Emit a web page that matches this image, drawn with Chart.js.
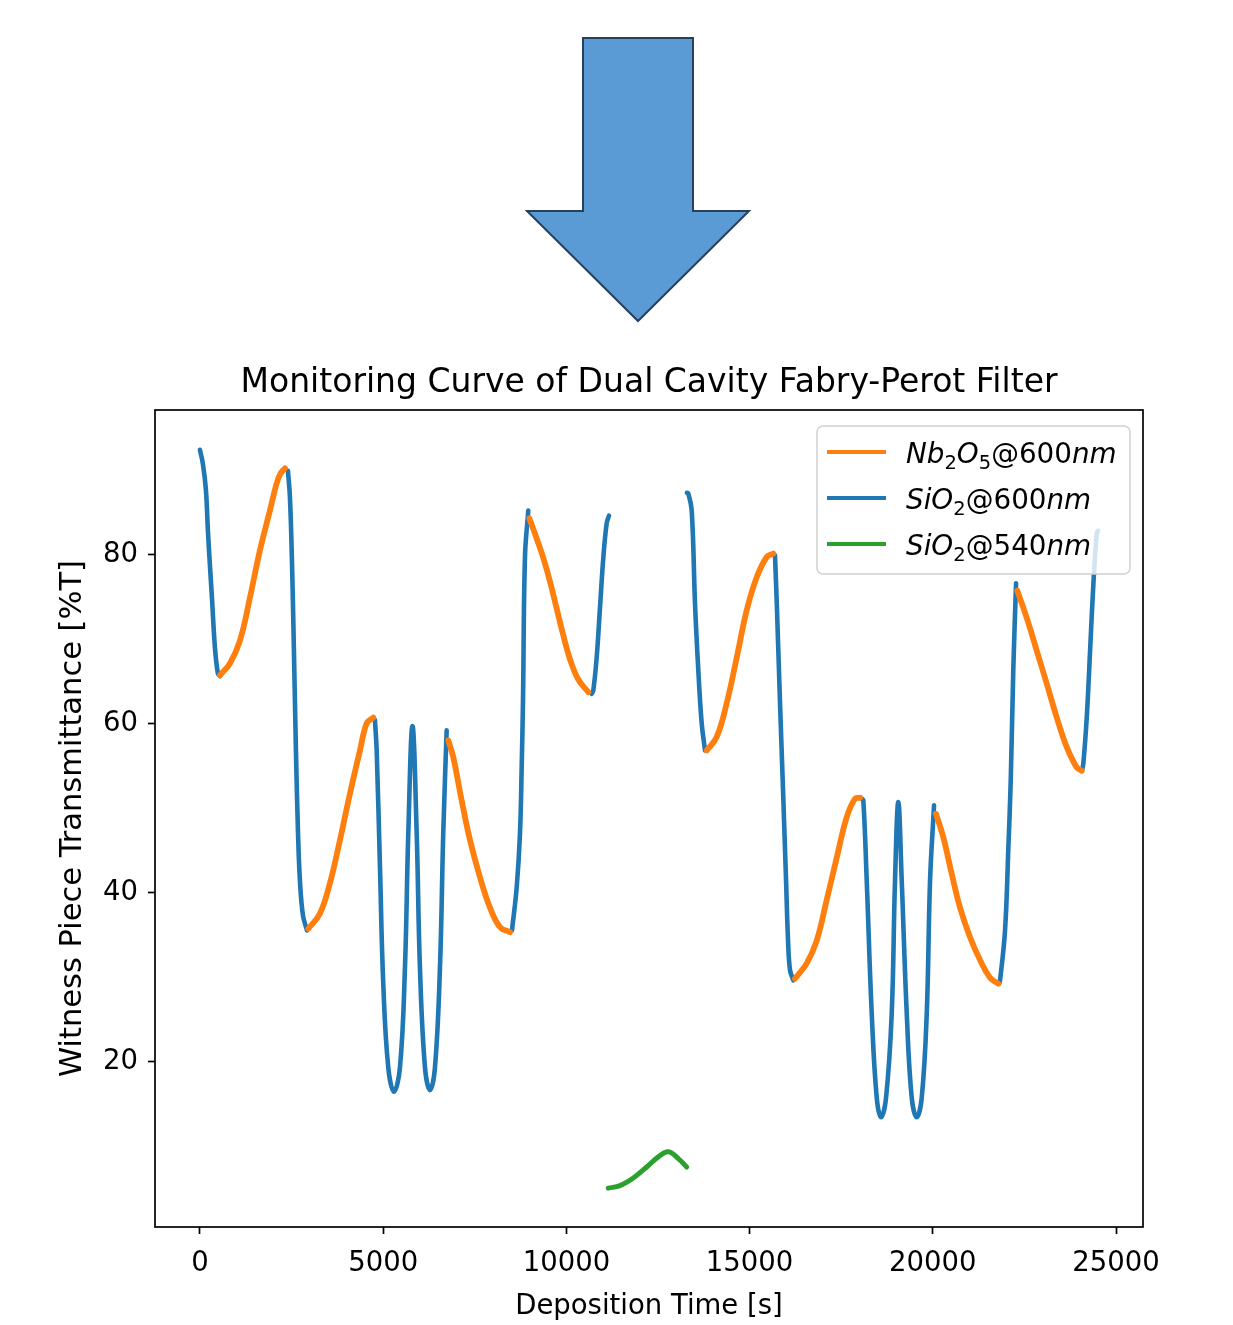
<!DOCTYPE html>
<html>
<head>
<meta charset="utf-8">
<script src="https://cdn.jsdelivr.net/npm/chart.js@4.4.0/dist/chart.umd.min.js"></script>
<style>
html,body{margin:0;padding:0;background:#fff;}
#wrap{position:relative;width:1233px;height:1325px;overflow:hidden;}
#c{position:absolute;left:0;top:0;}
#arrow{position:absolute;left:0;top:0;}
</style>
</head>
<body>
<div id="wrap">
<canvas id="c" width="1233" height="1325"></canvas>
<svg id="arrow" width="1233" height="340" viewBox="0 0 1233 340">
  <polygon points="583,38 693,38 693,211 749,211 638,321 527,211 583,211" fill="#5B9BD5" stroke="#27405E" stroke-width="2" stroke-linejoin="miter"/>
</svg>
</div>
<script>
// ---------------- data (null = break between deposition layers) ----------------
const chartTitle = 'Monitoring Curve of Dual Cavity Fabry-Perot Filter';
const xTitle = 'Deposition Time [s]';
const yTitle = 'Witness Piece Transmittance [%T]';
const xTicks = [0, 5000, 10000, 15000, 20000, 25000];
const yTicks = [20, 40, 60, 80];

// Nb2O5 @ 600 nm (orange)
const nbTime = [
  546, 819, 1092, 1365, 1638, 1910, 2093, 2200, 2320, null,
  2956, 3275, 3548, 3821, 4094, 4367, 4550, 4730, null,
  6777, 6914, 7142, 7369, 7642, 7915, 8188, 8461, null,
  8988, 9189, 9370, 9552, 9735, 9917, 10098, 10325, 10598, null,
  13829, 14102, 14375, 14648, 14921, 15194, 15467, 15647, null,
  16239, 16558, 16831, 17104, 17377, 17650, 17877, 18013, null,
  20087, 20287, 20516, 20742, 21015, 21288, 21561, 21788, null,
  22306, 22563, 22836, 23109, 23382, 23654, 23927, 24063
];
const nbValue = [
  65.7, 67.1, 69.8, 74.9, 80.5, 85.2, 88.4, 89.6, 90.2, null,
  35.7, 37.5, 41.1, 46.2, 51.7, 56.8, 60.0, 60.7, null,
  58.0, 56.0, 50.9, 46.2, 41.8, 38.2, 35.9, 35.3, null,
  84.3, 81.9, 79.6, 76.8, 73.6, 70.4, 67.6, 65.2, 63.7, null,
  56.8, 58.4, 62.4, 67.8, 73.4, 77.3, 79.7, 80.1, null,
  29.8, 31.6, 34.3, 39.1, 44.1, 48.9, 51.1, 51.2, null,
  49.3, 46.5, 42.2, 38.2, 34.7, 32.0, 29.9, 29.2, null,
  75.7, 72.5, 68.6, 64.7, 60.7, 57.2, 54.8, 54.4
];

// SiO2 @ 600 nm (blue)
const siTime = [
  0, 82, 164, 218, 273, 328, 409, 491, 546, null,
  2402, 2456, 2511, 2565, 2620, 2675, 2729, 2811, 2921, null,
  4776, 4823, 4913, 5003, 5139, 5295, 5459, 5595, 5686, 5800, 5915, 6004, 6141, 6278, 6414, 6550, 6640, 6733, null,
  8515, 8644, 8734, 8780, 8816, 8870, 8960, null,
  10690, 10734, 10826, 10917, 11008, 11100, 11163, null,
  13290, 13327, 13420, 13510, 13600, 13693, 13783, null,
  15693, 15748, 15830, 15912, 15994, 16048, 16103, 16193, null,
  18060, 18103, 18196, 18332, 18469, 18586, 18723, 18878, 18968, 19058, 19151, 19288, 19424, 19561, 19697, 19834, 19924, 20033, null,
  21806, 21834, 21970, 22061, 22126, 22197, 22271, null,
  24080, 24108, 24200, 24291, 24382, 24473, 24509
];
const siValue = [
  92.4, 90.7, 87.6, 82.8, 78.7, 74.9, 69.0, 65.9, 65.6, null,
  89.9, 86.8, 79.3, 68.6, 56.8, 47.3, 41.4, 37.3, 35.5, null,
  60.4, 56.8, 43.0, 29.2, 19.3, 16.4, 19.3, 31.1, 47.0, 59.7, 47.0, 31.1, 19.3, 16.6, 19.3, 31.1, 47.0, 59.2, null,
  35.5, 40.6, 47.0, 54.8, 62.7, 79.7, 85.2, null,
  63.5, 63.9, 67.8, 73.7, 79.6, 83.7, 84.6, null,
  87.3, 87.2, 85.2, 74.2, 66.3, 60.0, 56.8, null,
  79.9, 73.4, 62.4, 52.1, 41.5, 34.4, 30.8, 29.6, null,
  51.1, 50.9, 41.4, 25.7, 15.7, 13.4, 15.7, 25.7, 41.4, 50.7, 41.4, 25.7, 15.7, 13.4, 15.7, 25.7, 41.4, 50.3, null,
  29.2, 29.6, 35.5, 45.3, 53.3, 66.6, 76.6, null,
  54.6, 55.3, 60.7, 68.6, 76.6, 82.5, 82.8
];

// SiO2 @ 540 nm (green)
const si540Time = [11144, 11463, 11826, 12192, 12508, 12781, 13054, 13283];
const si540Value = [5.0, 5.3, 6.2, 7.5, 8.7, 9.3, 8.5, 7.5];

// ---------------- build chart ----------------
function toPoints(ts, vs) {
  const out = [];
  let lastX = 0;
  for (let i = 0; i < ts.length; i++) {
    if (ts[i] === null) { out.push({x: lastX, y: null}); continue; }
    lastX = ts[i];
    out.push({x: ts[i], y: vs[i]});
  }
  return out;
}

const FONT = "'DejaVu Sans', sans-serif";
const colors = {nb: '#ff7f0e', si: '#1f77b4', g: '#2ca02c'};

const legendItems = [
  {color: colors.nb, runs: [['N','i'],['b','i'],['2','s'],['O','i'],['5','s'],['@600','r'],['nm','i']]},
  {color: colors.si, runs: [['S','i'],['i','i'],['O','i'],['2','s'],['@600','r'],['nm','i']]},
  {color: colors.g,  runs: [['S','i'],['i','i'],['O','i'],['2','s'],['@540','r'],['nm','i']]}
];

const titlePlugin = {
  id: 'mplTitle',
  afterDraw(chart) {
    const {ctx, chartArea: a} = chart;
    ctx.save();
    ctx.font = `33px ${FONT}`;
    ctx.fillStyle = '#000';
    ctx.textAlign = 'center';
    ctx.textBaseline = 'alphabetic';
    ctx.fillText(chartTitle, (a.left + a.right) / 2, a.top - 18);
    ctx.restore();
  }
};

const framePlugin = {
  id: 'frame',
  afterDatasetsDraw(chart) {
    const {ctx, chartArea: a} = chart;
    ctx.save();
    ctx.strokeStyle = '#000';
    ctx.lineWidth = 1.7;
    ctx.strokeRect(a.left, a.top, a.right - a.left, a.bottom - a.top);
    ctx.restore();
  }
};

const legendPlugin = {
  id: 'mplLegend',
  afterDraw(chart) {
    const {ctx, chartArea: a} = chart;
    const bw = 313, bh = 148;
    const bx = a.right - 13 - bw, by = a.top + 16;
    ctx.save();
    ctx.beginPath();
    ctx.roundRect(bx, by, bw, bh, 6);
    ctx.fillStyle = 'rgba(255,255,255,0.8)';
    ctx.fill();
    ctx.strokeStyle = '#d0d0d0';
    ctx.lineWidth = 1.5;
    ctx.stroke();
    const fs = 27.8;
    legendItems.forEach((it, k) => {
      const ly = by + 26 + k * 46;
      ctx.beginPath();
      ctx.moveTo(bx + 10, ly);
      ctx.lineTo(bx + 69, ly);
      ctx.strokeStyle = it.color;
      ctx.lineWidth = 4;
      ctx.lineCap = 'butt';
      ctx.stroke();
      let x = bx + 89;
      const base = ly + 11;
      ctx.fillStyle = '#000';
      ctx.textBaseline = 'alphabetic';
      ctx.textAlign = 'left';
      it.runs.forEach(([t, st]) => {
        if (st === 's') {
          ctx.font = `${(fs*0.7).toFixed(1)}px ${FONT}`;
          ctx.fillText(t, x, base + 6);
        } else if (st === 'i') {
          ctx.font = `italic ${fs}px ${FONT}`;
          ctx.fillText(t, x, base);
        } else {
          ctx.font = `${fs}px ${FONT}`;
          ctx.fillText(t, x, base);
        }
        x += ctx.measureText(t).width;
      });
    });
    ctx.restore();
  }
};

const tickFont = {family: FONT, size: 27.5};

new Chart(document.getElementById('c'), {
  type: 'line',
  data: {
    datasets: [
      {label: 'Nb2O5@600nm', data: toPoints(nbTime, nbValue), borderColor: colors.nb, borderWidth: 5.8},
      {label: 'SiO2@600nm', data: toPoints(siTime, siValue), borderColor: colors.si, borderWidth: 4.6},
      {label: 'SiO2@540nm', data: toPoints(si540Time, si540Value), borderColor: colors.g, borderWidth: 5}
    ].map(d => Object.assign(d, {
      pointRadius: 0, pointHoverRadius: 0, fill: false, spanGaps: false,
      tension: 0.4, borderCapStyle: 'round', borderJoinStyle: 'round'
    }))
  },
  options: {
    responsive: false,
    animation: false,
    devicePixelRatio: 1,
    events: [],
    layout: {padding: {left: 0, right: 90, top: 410, bottom: 0}},
    plugins: {
      legend: {display: false},
      tooltip: {enabled: false},
      title: {display: false}
    },
    scales: {
      x: {
        type: 'linear', min: -1226, max: 25735,
        afterBuildTicks: s => { s.ticks = xTicks.map(v => ({value: v})); },
        afterFit: s => { s.height = 98; },
        ticks: {color: '#000', font: tickFont, padding: 13, autoSkip: false, maxRotation: 0, callback: v => String(v)},
        grid: {drawOnChartArea: false, drawTicks: true, tickLength: 7, tickWidth: 1.7, tickColor: '#000'},
        border: {display: false},
        title: {display: true, text: xTitle, color: '#000', font: {family: FONT, size: 27.5, lineHeight: 1.2}, padding: {top: 0, bottom: 2}}
      },
      y: {
        type: 'linear', min: 0.4, max: 97.1,
        afterBuildTicks: s => { s.ticks = yTicks.map(v => ({value: v})); },
        afterFit: s => { s.width = 155; },
        ticks: {color: '#000', font: tickFont, padding: 10, autoSkip: false, callback: v => String(v)},
        grid: {drawOnChartArea: false, drawTicks: true, tickLength: 7, tickWidth: 1.7, tickColor: '#000'},
        border: {display: false},
        title: {display: true, text: yTitle, color: '#000', font: {family: FONT, size: 30.5, lineHeight: 1.2}, padding: {top: 55, bottom: 0}}
      }
    }
  },
  plugins: [framePlugin, legendPlugin, titlePlugin]
});
</script>
</body>
</html>
